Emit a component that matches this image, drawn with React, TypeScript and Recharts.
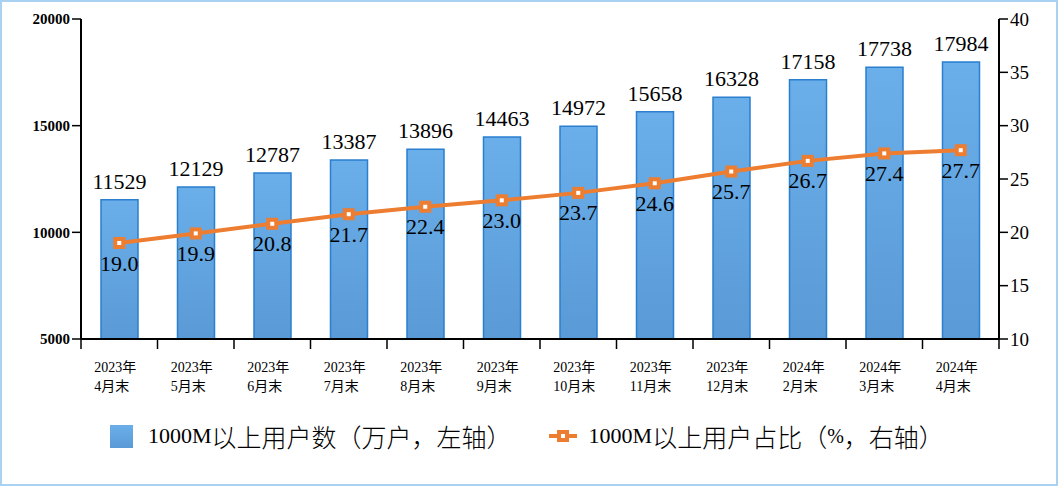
import React from 'react';
import { ComposedChart, Bar, Line, XAxis, YAxis, Legend, LabelList } from 'recharts';

const months = ['2023年|4月末', '2023年|5月末', '2023年|6月末', '2023年|7月末', '2023年|8月末', '2023年|9月末', '2023年|10月末', '2023年|11月末', '2023年|12月末', '2024年|2月末', '2024年|3月末', '2024年|4月末'];
const users = [11529, 12129, 12787, 13387, 13896, 14463, 14972, 15658, 16328, 17158, 17738, 17984];
const share = [19.0, 19.9, 20.8, 21.7, 22.4, 23.0, 23.7, 24.6, 25.7, 26.7, 27.4, 27.7];
const leftTicks = [5000, 10000, 15000, 20000];
const rightTicks = [10, 15, 20, 25, 30, 35, 40];

const data = months.map((m, i) => ({ month: m, users: users[i], share: share[i] }));

const SERIF = '"Liberation Serif", "Times New Roman", serif';
const CJK = '"Liberation Serif", "Noto Sans CJK SC", serif';
const CJK_ONLY = '"Noto Sans CJK SC", sans-serif';
const BAND = 918 / 12;

const MonthTick = (props: any) => {
  const { x, y, payload, index } = props;
  const [a, b] = String(payload.value).split('|');
  return (
    <g>
      <line x1={x - BAND / 2} y1={y - 8} x2={x - BAND / 2} y2={y + 2} stroke="#000" strokeWidth={1.5} />
      {index === months.length - 1 && (
        <line x1={x + BAND / 2} y1={y - 8} x2={x + BAND / 2} y2={y + 2} stroke="#000" strokeWidth={1.5} />
      )}
      <text x={x - 25} y={y + 25} fontSize={14} fontFamily={CJK} fill="#000">{a}</text>
      <text x={x - 25} y={y + 44} fontSize={14} fontFamily={CJK} fill="#000">{b}</text>
    </g>
  );
};

const Dot = (props: any) => {
  const { cx, cy } = props;
  if (cx == null || cy == null) return null;
  return (
    <g>
      <rect x={cx - 6} y={cy - 6} width={12} height={12} fill="#ed7d31" />
      <rect x={cx - 2} y={cy - 2} width={4} height={4} fill="#fff" />
    </g>
  );
};

const LegendContent = () => (
  <div style={{ display: 'flex', alignItems: 'center', height: 70, paddingLeft: 110, color: '#000', whiteSpace: 'nowrap' }}>
    <span style={{ display: 'inline-block', width: 23, height: 23, background: 'linear-gradient(#6aafea, #5a9ad6)', marginRight: 15 }} />
    <span style={{ fontFamily: SERIF, fontSize: 22 }}>1000M</span>
    <span style={{ fontFamily: CJK_ONLY, fontSize: 25, fontWeight: 300 }}>以上用户数（万户，左轴）</span>
    <svg width={28} height={14} style={{ marginLeft: 37, marginRight: 12 }}>
      <line x1={0} y1={7} x2={28} y2={7} stroke="#ed7d31" strokeWidth={4} />
      <rect x={8} y={1} width={12} height={12} fill="#ed7d31" />
      <rect x={12} y={5} width={4} height={4} fill="#fff" />
    </svg>
    <span style={{ fontFamily: SERIF, fontSize: 22 }}>1000M</span>
    <span style={{ fontFamily: CJK_ONLY, fontSize: 25, fontWeight: 300 }}>以上用户占比（</span>
    <span style={{ fontFamily: SERIF, fontSize: 20 }}>%</span>
    <span style={{ fontFamily: CJK_ONLY, fontSize: 25, fontWeight: 300 }}>，右轴）</span>
  </div>
);

export default function App() {
  return (
    <div style={{ position: 'absolute', left: 0, top: 0, width: 1058, height: 486, background: '#fff' }}>
      <div style={{ position: 'absolute', left: 0, top: 0, width: 1058, height: 486, border: '2px solid #a9d1f2', boxSizing: 'border-box', pointerEvents: 'none', zIndex: 2 }} />
      <ComposedChart width={1058} height={486} data={data} margin={{ top: 19, right: 0, bottom: 15, left: 0 }}>
        <defs>
          <linearGradient id="barFill" x1="0" y1="0" x2="0" y2="1">
            <stop offset="0%" stopColor="#6aafea" />
            <stop offset="100%" stopColor="#5a9ad6" />
          </linearGradient>
        </defs>
        <XAxis dataKey="month" height={62} tickLine={false} axisLine={{ stroke: '#000', strokeWidth: 2 }} tick={<MonthTick />} interval={0} />
        <YAxis yAxisId="left" width={81} domain={[5000, 20000]} ticks={leftTicks} axisLine={{ stroke: '#000', strokeWidth: 2 }} tickLine={{ stroke: '#000', strokeWidth: 1.5 }} tickSize={9} tick={{ fill: '#000', fontSize: 15, fontWeight: 'bold', fontFamily: SERIF }} />
        <YAxis yAxisId="right" orientation="right" width={59} domain={[10, 40]} ticks={rightTicks} axisLine={{ stroke: '#000', strokeWidth: 2 }} tickLine={{ stroke: '#000', strokeWidth: 1.5 }} tickSize={9} tick={{ fill: '#000', fontSize: 19, fontFamily: SERIF }} />
        <Legend verticalAlign="bottom" height={70} content={<LegendContent />} />
        <Bar yAxisId="left" dataKey="users" barSize={37} fill="url(#barFill)" stroke="#2a7fcf" strokeWidth={1.5} isAnimationActive={false}>
          <LabelList dataKey="users" position="top" offset={11} fill="#000" fontSize={22} fontFamily={SERIF} />
        </Bar>
        <Line yAxisId="right" dataKey="share" stroke="#ed7d31" strokeWidth={4} dot={<Dot />} activeDot={false} isAnimationActive={false}>
          <LabelList dataKey="share" position="bottom" offset={12} fill="#000" fontSize={22} fontFamily={SERIF} formatter={(v: any) => Number(v).toFixed(1)} />
        </Line>
      </ComposedChart>
    </div>
  );
}
